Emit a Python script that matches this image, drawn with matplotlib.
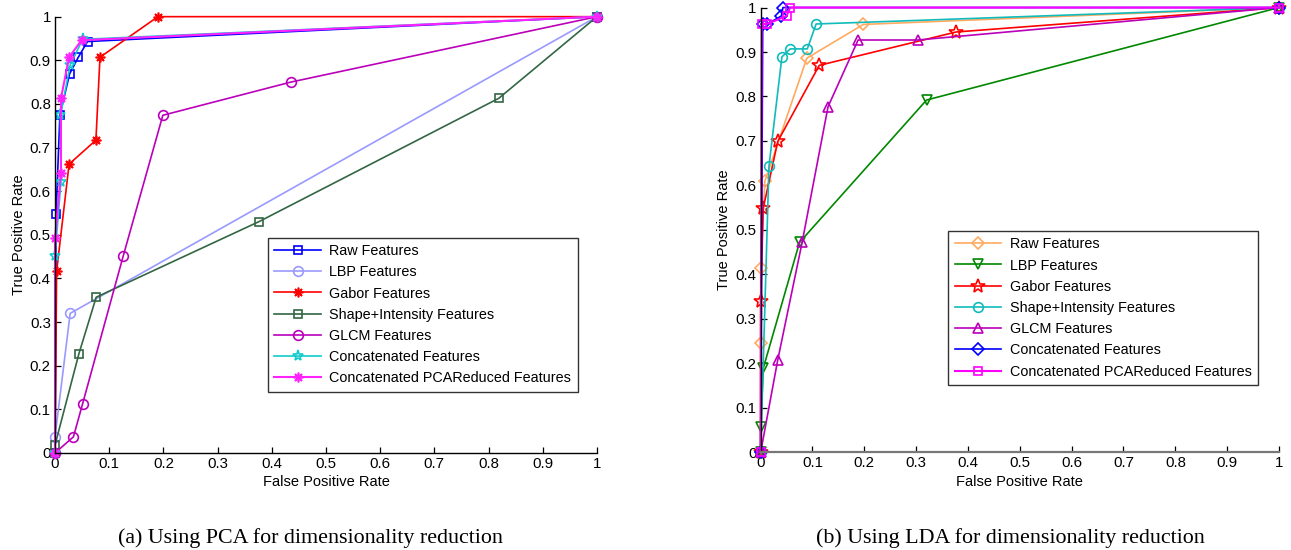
import matplotlib
matplotlib.use("Agg")
import matplotlib.pyplot as plt

plt.rcParams['font.family'] = ['Liberation Sans', 'DejaVu Sans']

labels = ["Raw Features", "LBP Features", "Gabor Features", "Shape+Intensity Features",
          "GLCM Features", "Concatenated Features", "Concatenated PCAReduced Features"]

# ---- (a) PCA ----
pca_raw_x = [0, 0.002, 0.009, 0.027, 0.043, 0.060, 1]
pca_raw_y = [0, 0.548, 0.774, 0.869, 0.907, 0.943, 1]
pca_lbp_x = [0, 0, 0.028, 1]
pca_lbp_y = [0, 0.037, 0.320, 1]
pca_gabor_x = [0, 0.003, 0.026, 0.0755, 0.083, 0.19, 1]
pca_gabor_y = [0, 0.416, 0.662, 0.717, 0.907, 1.0, 1]
pca_shape_x = [0, 0, 0.044, 0.076, 0.376, 0.819, 1]
pca_shape_y = [0, 0.018, 0.227, 0.357, 0.530, 0.813, 1]
pca_glcm_x = [0, 0.034, 0.051, 0.126, 0.199, 0.435, 1]
pca_glcm_y = [0, 0.037, 0.113, 0.452, 0.774, 0.850, 1]
pca_conc_x = [0, 0, 0.011, 0.010, 0.028, 0.051, 1]
pca_conc_y = [0, 0.452, 0.622, 0.774, 0.889, 0.948, 1]
pca_concr_x = [0, 0, 0.011, 0.011, 0.026, 0.049, 1]
pca_concr_y = [0, 0.492, 0.642, 0.813, 0.907, 0.946, 1]

# ---- (b) LDA ----
lda_raw_x = [0, 0, 0, 0.008, 0.089, 0.198, 1]
lda_raw_y = [0, 0.245, 0.414, 0.609, 0.886, 0.962, 1]
lda_lbp_x = [0, 0, 0.005, 0.075, 0.320, 1]
lda_lbp_y = [0, 0.056, 0.189, 0.472, 0.792, 1]
lda_gabor_x = [0, 0, 0.005, 0.033, 0.113, 0.377, 1]
lda_gabor_y = [0, 0.341, 0.549, 0.699, 0.870, 0.945, 1]
lda_shape_x = [0, 0.016, 0.041, 0.057, 0.090, 0.107, 1]
lda_shape_y = [0, 0.643, 0.889, 0.907, 0.907, 0.963, 1]
lda_glcm_x = [0, 0.033, 0.080, 0.130, 0.188, 0.303, 1]
lda_glcm_y = [0, 0.208, 0.472, 0.777, 0.927, 0.927, 1]
lda_conc_x = [0, 0.004, 0.013, 0.040, 0.043, 1]
lda_conc_y = [0, 0.963, 0.963, 0.981, 1.0, 1]
lda_concr_x = [0, 0.002, 0.012, 0.050, 0.057, 1]
lda_concr_y = [0, 0.963, 0.963, 0.981, 1.0, 1]

pca_series = [
    (pca_raw_x, pca_raw_y, '#0000ff', 's', 5.5),
    (pca_lbp_x, pca_lbp_y, '#9999ff', 'o', 7),
    (pca_gabor_x, pca_gabor_y, '#ff0000', (8, 2, 0), 7),
    (pca_shape_x, pca_shape_y, '#336644', 's', 5.5),
    (pca_glcm_x, pca_glcm_y, '#bb00bb', 'o', 7),
    (pca_conc_x, pca_conc_y, '#11cccc', '*', 8),
    (pca_concr_x, pca_concr_y, '#ff22ff', (8, 2, 0), 7),
]
lda_series = [
    (lda_raw_x, lda_raw_y, '#ffaa60', 'D', 6),
    (lda_lbp_x, lda_lbp_y, '#008800', 'v', 7),
    (lda_gabor_x, lda_gabor_y, '#ff0000', '*', 10),
    (lda_shape_x, lda_shape_y, '#11bbbb', 'o', 7),
    (lda_glcm_x, lda_glcm_y, '#bb00bb', '^', 7),
    (lda_conc_x, lda_conc_y, '#0000ff', 'D', 6),
    (lda_concr_x, lda_concr_y, '#ff00ff', 's', 6),
]

fig = plt.figure(figsize=(12.91, 5.5), dpi=100)
ax1 = fig.add_axes([0.0426, 0.1764, 0.4198, 0.7933])
ax2 = fig.add_axes([0.5892, 0.1776, 0.4015, 0.8087])

ticks = [0, 0.1, 0.2, 0.3, 0.4, 0.5, 0.6, 0.7, 0.8, 0.9, 1]
ticklabels = ['0', '0.1', '0.2', '0.3', '0.4', '0.5', '0.6', '0.7', '0.8', '0.9', '1']

for ax, series, legpos in [(ax1, pca_series, (0.393, 0.14)), (ax2, lda_series, (0.362, 0.151))]:
    n = len(series)
    for i, ((x, y, c, m, ms), lab) in enumerate(zip(series, labels)):
        lw = 1.5 if i == n - 1 else 1.2
        ax.plot(x, y, color=c, marker=m, markersize=ms, markerfacecolor='none',
                markeredgecolor=c, markeredgewidth=1.2, linewidth=lw, label=lab,
                clip_on=False)
    ax.set_xlim(0, 1)
    ax.set_ylim(0, 1)
    ax.set_xticks(ticks)
    ax.set_xticklabels(ticklabels)
    ax.set_yticks(ticks)
    ax.set_yticklabels(ticklabels)
    ax.spines['top'].set_visible(False)
    ax.spines['right'].set_visible(False)
    ax.tick_params(direction='in', length=4, width=0.9, labelsize=10.8, pad=3,
                   top=False, right=False)
    ax.set_xlabel('False Positive Rate', fontsize=10.5, labelpad=3)
    ax.set_ylabel('True Positive Rate', fontsize=10.5, labelpad=3)
    leg = ax.legend(loc='lower left', bbox_to_anchor=legpos, fontsize=10.4,
                    frameon=True, fancybox=False, edgecolor='black',
                    handlelength=3.2, handletextpad=0.6, borderpad=0.45,
                    labelspacing=0.5, borderaxespad=0)
    leg.get_frame().set_linewidth(1.0)

ax1.spines['left'].set_linewidth(1.0)
ax1.spines['bottom'].set_linewidth(1.0)
ax2.spines['left'].set_linewidth(1.0)
ax2.spines['bottom'].set_color('#777777')
ax2.spines['bottom'].set_linewidth(1.6)

fig.text(0.2402, 0.004, '(a) Using PCA for dimensionality reduction',
         ha='center', va='bottom', fontsize=15.8, family=['Liberation Serif', 'DejaVu Serif'])
fig.text(0.7823, 0.004, '(b) Using LDA for dimensionality reduction',
         ha='center', va='bottom', fontsize=15.8, family=['Liberation Serif', 'DejaVu Serif'])

fig.savefig('out.png', dpi=100)
